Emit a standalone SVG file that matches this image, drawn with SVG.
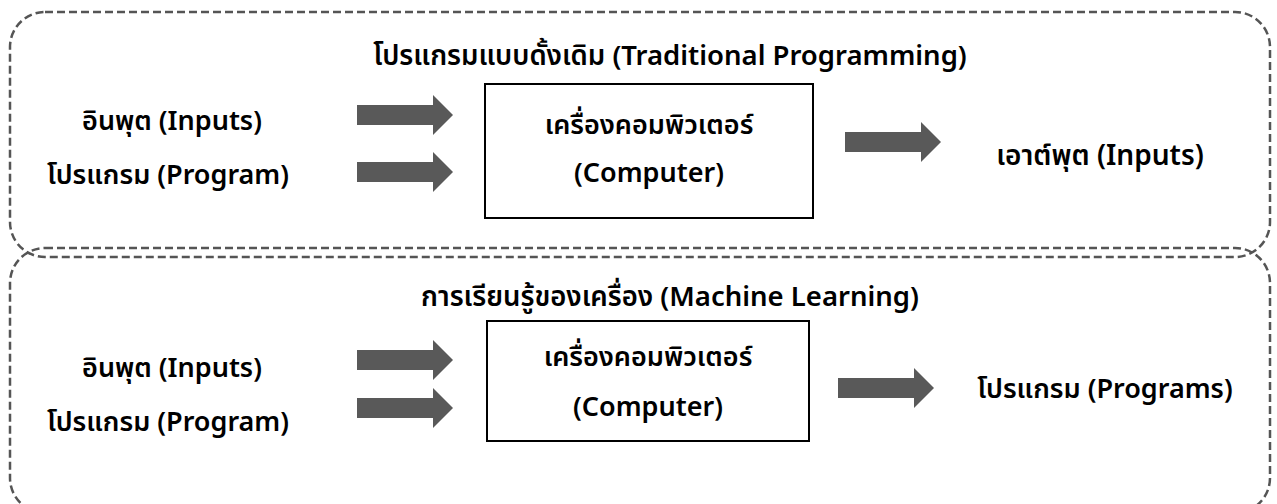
<svg xmlns="http://www.w3.org/2000/svg" width="1277" height="504" viewBox="0 0 1277 504">
<style>
.frame{fill:none;stroke:#555;stroke-width:2.5;stroke-dasharray:8 4}
.box{fill:#fff;stroke:#000;stroke-width:2}
.arr{fill:#595959}
text{font-family:"Noto Sans","Noto Sans Thai","Tahoma",sans-serif;font-size:27px;font-weight:600;fill:#000;text-anchor:middle}
.title{font-size:27.5px}
</style>
<defs>
<path id="arrow" d="M0,-10 H76 V-20 L96,0 L76,20 V10 H0 Z"/>
</defs>
<rect width="1277" height="504" fill="#fff"/>
<g id="frame-traditional"><rect class="frame" x="10" y="12" width="1260" height="245" rx="35"/></g>
<g id="frame-ml"><rect class="frame" x="10" y="248" width="1260" height="265" rx="35"/></g>
<g id="title-traditional"><text class="title" x="670" y="65">โปรแกรมแบบดั้งเดิม (Traditional Programming)</text></g>
<g id="title-ml"><text class="title" x="670" y="306">การเรียนรู้ของเครื่อง (Machine Learning)</text></g>
<g id="inputs-top"><text x="172" y="130">อินพุต (Inputs)</text></g>
<g id="program-top"><text x="168" y="184">โปรแกรม (Program)</text></g>
<g id="computer-top"><rect class="box" x="485" y="84" width="328" height="134"/><text x="649" y="134">เครื่องคอมพิวเตอร์</text><text x="649" y="182">(Computer)</text></g>
<g id="output-top"><text x="1100" y="165" style="font-size:28px">เอาต์พุต (Inputs)</text></g>
<g id="inputs-bottom"><text x="172" y="377">อินพุต (Inputs)</text></g>
<g id="program-bottom"><text x="168" y="431">โปรแกรม (Program)</text></g>
<g id="computer-bottom"><rect class="box" x="487" y="321" width="322" height="120"/><text x="648" y="366">เครื่องคอมพิวเตอร์</text><text x="648" y="416">(Computer)</text></g>
<g id="programs-bottom"><text x="1105" y="398">โปรแกรม (Programs)</text></g>
<g id="connectors" class="arr">
<use href="#arrow" transform="translate(357,115)"/>
<use href="#arrow" transform="translate(357,172)"/>
<use href="#arrow" transform="translate(845,142)"/>
<use href="#arrow" transform="translate(357,360)"/>
<use href="#arrow" transform="translate(357,408)"/>
<use href="#arrow" transform="translate(838,388)"/>
</g>
</svg>
